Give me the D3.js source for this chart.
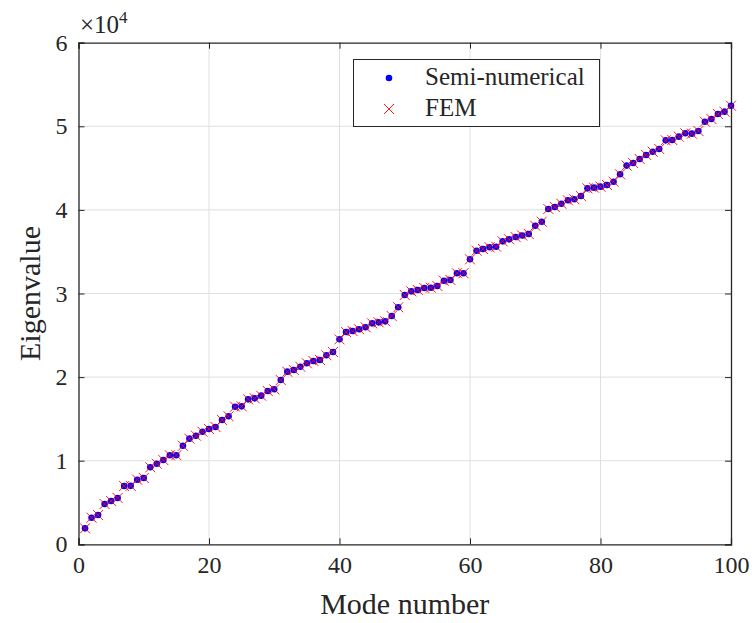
<!DOCTYPE html>
<html>
<head>
<meta charset="utf-8">
<script src="https://cdn.jsdelivr.net/npm/d3@7"></script>
<style>
  body { margin: 0; background: #fff; }
  svg { display: block; font-family: "Liberation Serif", "DejaVu Serif", serif; }
</style>
</head>
<body>
<svg id="chart" width="756" height="623"></svg>
<script>
// Eigenvalues for the first 100 modes
const modes = d3.range(1, 101);
const semiNumerical = [
  1910, 3180, 3500, 4820, 5180, 5540, 6970, 6990, 7730, 7930,
  9210, 9640, 10080, 10650, 10660, 11790, 12640, 12990, 13470, 13790,
  14030, 14870, 15310, 16460, 16500, 17340, 17460, 17780, 18340, 18540,
  19650, 20650, 20850, 21240, 21650, 21930, 22050, 22610, 23000, 24520,
  25390, 25510, 25720, 25960, 26430, 26550, 26670, 27310, 28350, 29820,
  30260, 30420, 30660, 30690, 30900, 31530, 31610, 32420, 32430, 34090,
  35120, 35320, 35530, 35600, 36240, 36480, 36750, 36940, 37120, 38110,
  38590, 40110, 40350, 40740, 41150, 41270, 41660, 42580, 42660, 42780,
  42980, 43370, 44260, 45300, 45610, 46090, 46570, 46960, 47290, 48320,
  48360, 48760, 49160, 49120, 49440, 50550, 50870, 51470, 51750, 52460
];
// FEM results coincide with the semi-numerical ones at this scale
const fem = semiNumerical.slice();

const xTicks = [0, 20, 40, 60, 80, 100];
const yTicks = [0, 10000, 20000, 30000, 40000, 50000, 60000];
const yTickLabels = ["0", "1", "2", "3", "4", "5", "6"];
const seriesNames = ["Semi-numerical", "FEM"];

const svg = d3.select("#chart");
const plotL = 78.5, plotR = 731, plotT = 42.7, plotB = 544.3;

const x = d3.scaleLinear().domain([0, 100]).range([plotL, plotR]);
const y = d3.scaleLinear().domain([0, 60000]).range([plotB, plotT]);

// grid
const grid = svg.append("g").attr("stroke", "#dfdfdf").attr("stroke-width", 1);
xTicks.slice(1, -1).forEach(t => grid.append("line")
  .attr("x1", x(t)).attr("x2", x(t)).attr("y1", plotT).attr("y2", plotB));
yTicks.slice(1, -1).forEach(t => grid.append("line")
  .attr("x1", plotL).attr("x2", plotR).attr("y1", y(t)).attr("y2", y(t)));

// axes with inward ticks
const axisColor = "#262626";
const xAxis = svg.append("g").attr("transform", `translate(0,${plotB})`)
  .call(d3.axisBottom(x).tickValues(xTicks).tickSize(-6).tickPadding(12).tickFormat(d3.format("d")));
const yAxis = svg.append("g").attr("transform", `translate(${plotL},0)`)
  .call(d3.axisLeft(y).tickValues(yTicks).tickSize(-6).tickPadding(11)
    .tickFormat((d, i) => yTickLabels[i]));
const xAxisTop = svg.append("g").attr("transform", `translate(0,${plotT})`)
  .call(d3.axisTop(x).tickValues(xTicks).tickSize(-6).tickFormat(""));
const yAxisRight = svg.append("g").attr("transform", `translate(${plotR},0)`)
  .call(d3.axisRight(y).tickValues(yTicks).tickSize(-6).tickFormat(""));
[xAxis, yAxis, xAxisTop, yAxisRight].forEach(g => {
  g.select(".domain").attr("stroke", axisColor).attr("stroke-width", 1.3);
  g.selectAll(".tick line").attr("stroke", axisColor).attr("stroke-width", 1);
  g.selectAll(".tick text").attr("fill", axisColor)
    .style("font-family", "'Liberation Serif', serif").style("font-size", "24px");
});
xAxis.selectAll(".tick text").attr("dy", "0.71em");

// exponent label
const expo = svg.append("text").attr("x", 80).attr("y", 33).attr("fill", axisColor)
  .style("font-size", "25px");
expo.append("tspan").text("\u00d710");
expo.append("tspan").attr("dy", -10).style("font-size", "17px").text("4");

// axis titles
svg.append("text").attr("x", (plotL + plotR) / 2).attr("y", 614).attr("text-anchor", "middle")
  .attr("fill", axisColor).style("font-size", "30px").text("Mode number");
svg.append("text").attr("transform", `translate(40,${(plotT + plotB) / 2}) rotate(-90)`)
  .attr("text-anchor", "middle").attr("fill", axisColor).style("font-size", "30px").text("Eigenvalue");

// markers
const xPath = s => `M${-s},${-s}L${s},${s}M${-s},${s}L${s},${-s}`;
svg.append("g").selectAll("circle").data(semiNumerical).join("circle")
  .attr("cx", (d, i) => x(modes[i])).attr("cy", d => y(d)).attr("r", 3.3).attr("fill", "#0000ff");
svg.append("g").selectAll("path").data(fem).join("path")
  .attr("transform", (d, i) => `translate(${x(modes[i])},${y(d)})`)
  .attr("d", xPath(5)).attr("stroke", "#ff0000").attr("stroke-width", 0.9).attr("fill", "none");

// legend
const lg = svg.append("g");
lg.append("rect").attr("x", 353.5).attr("y", 59.5).attr("width", 246).attr("height", 67)
  .attr("fill", "#fff").attr("stroke", axisColor).attr("stroke-width", 1);
lg.append("circle").attr("cx", 389).attr("cy", 78).attr("r", 3.3).attr("fill", "#0000ff");
lg.append("path").attr("transform", "translate(389,109)").attr("d", xPath(5))
  .attr("stroke", "#ff0000").attr("stroke-width", 0.9).attr("fill", "none");
lg.append("text").attr("x", 425).attr("y", 85).attr("fill", axisColor)
  .style("font-size", "25px").text(seriesNames[0]);
lg.append("text").attr("x", 425).attr("y", 116).attr("fill", axisColor)
  .style("font-size", "25px").text(seriesNames[1]);
</script>
</body>
</html>
